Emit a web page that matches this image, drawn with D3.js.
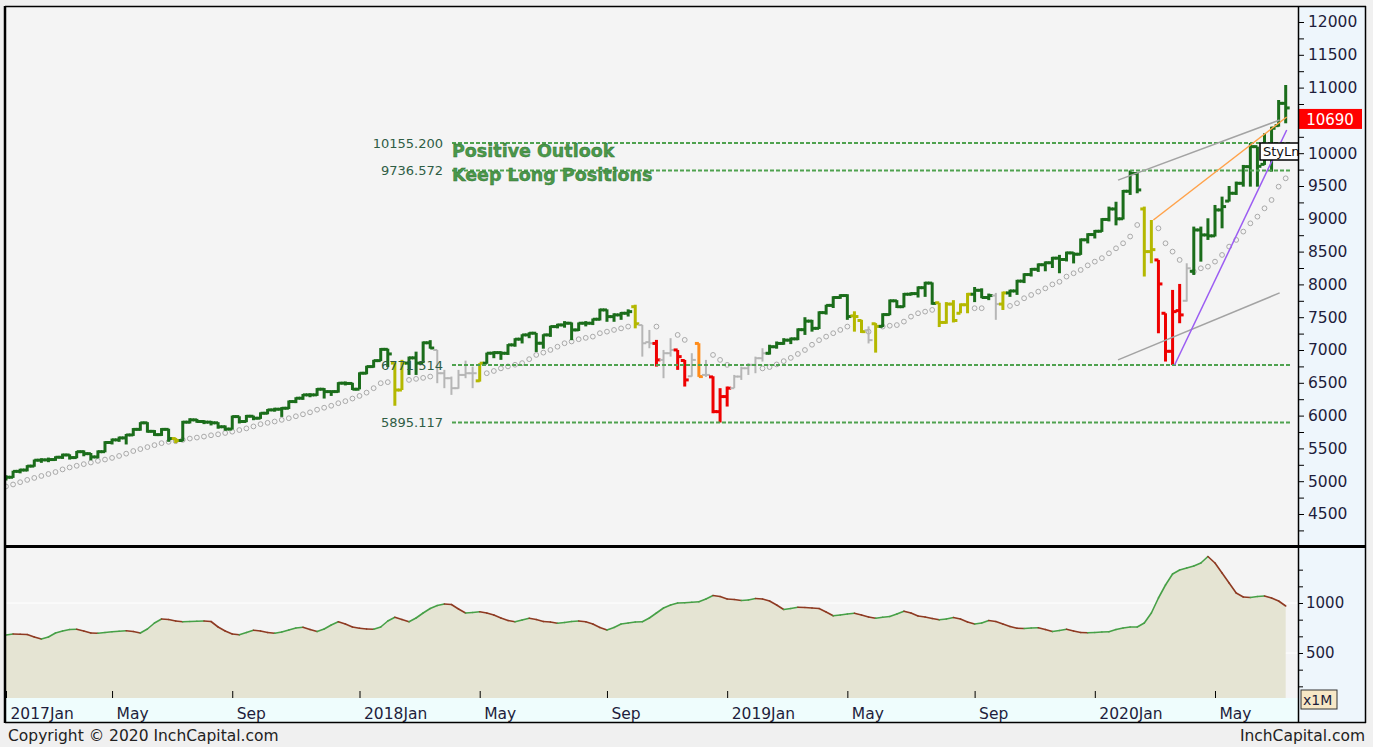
<!DOCTYPE html>
<html>
<head>
<meta charset="utf-8">
<script src="https://cdn.jsdelivr.net/npm/d3@7"></script>
<style>
  body { margin: 0; background: #f0f0f0; }
  text { font-family: "DejaVu Sans", Verdana, sans-serif; }
</style>
</head>
<body>
<svg id="chart" width="1373" height="747"></svg>
<script>
// weekly bars, one per friday
let dates = d3.timeFriday.range(new Date(2017, 0, 20), new Date(2020, 6, 11));

let opens = [
  5030,5060,5150,5170,5230,5320,5325,5330,5365,5400,
  5360,5450,5420,5370,5450,5590,5630,5660,5705,5790,
  5890,5760,5710,5790,5650,5620,5900,5935,5910,5900,
  5890,5830,5795,5985,5910,5990,5960,6036,6087,6097,
  6112,6214,6265,6316,6316,6402,6366,6366,6494,6490,
  6402,6646,6747,6838,7010,6800,6390,6800,6880,6800,
  7110,7000,6646,6570,6418,6620,6646,6530,6799,6951,
  6960,6950,7078,7165,7230,7256,7103,7230,7357,7382,
  7408,7306,7408,7408,7469,7611,7509,7535,7560,7660,
  7380,7120,7100,6849,6951,7001,6840,6600,7100,6620,
  6590,6060,6290,6418,6595,6722,6773,6875,6950,7050,
  7100,7150,7170,7310,7440,7330,7570,7680,7800,7830,
  7520,7450,7300,7400,7360,7540,7750,7660,7850,7860,
  7950,8020,7720,7420,7700,7560,7690,7850,7910,7800,
  7830,7700,7870,7900,8050,8150,8230,8300,8330,8400,
  8380,8480,8460,8680,8760,8810,8990,9150,9000,9420,
  9690,9150,8500,8373,7560,6980,7600,7750,8200,8830,
  8754,8740,9135,9270,9389,9541,9795,10100,9830,10125,
  10420,10760
];
let highs = [
  5090,5160,5190,5245,5330,5350,5360,5380,5420,5410,
  5460,5470,5430,5470,5610,5650,5680,5720,5810,5900,
  5900,5780,5810,5800,5660,5920,5960,5950,5930,5920,
  5900,5850,6000,5990,6010,6000,6050,6100,6120,6130,
  6230,6280,6330,6340,6420,6420,6380,6510,6520,6500,
  6660,6760,6850,7030,7020,6810,6850,6900,6975,7130,
  7150,7000,6697,6595,6697,6838,6747,6800,6960,6980,
  6980,7090,7180,7240,7270,7260,7240,7370,7400,7440,
  7420,7420,7440,7480,7630,7620,7560,7580,7620,7690,
  7382,7306,7154,7001,7180,7001,6849,6951,7103,6849,
  6600,6418,6443,6620,6747,6799,6899,7027,7080,7130,
  7180,7190,7330,7500,7460,7590,7690,7820,7850,7850,
  7590,7460,7360,7410,7560,7770,7760,7870,7880,7970,
  8040,8030,7720,7730,7760,7710,7870,7960,7940,7860,
  7870,7890,7920,8070,8170,8250,8320,8350,8420,8450,
  8500,8490,8700,8780,8830,9010,9186,9260,9440,9736.572,
  9700,9186,8982,8373,7560,7916,8007,8322,8881,8881,
  9008,9211,9338,9500,9567,9821,10155.2,10100,10303,10405,
  10811,11040
];
let lows = [
  5010,5050,5120,5150,5220,5280,5290,5310,5340,5330,
  5350,5380,5320,5350,5440,5560,5600,5560,5690,5770,
  5740,5690,5690,5600,5580,5610,5880,5890,5870,5850,
  5800,5770,5790,5880,5900,5930,5950,6020,6060,5980,
  6100,6190,6240,6280,6300,6260,6300,6350,6460,6390,
  6400,6630,6730,6830,6740,6150,6390,6620,6620,6800,
  7020,6494,6418,6316,6410,6570,6418,6518,6790,6875,
  6850,6925,7050,7100,7180,6970,7020,7200,7330,7340,
  7150,7290,7360,7380,7450,7430,7430,7460,7510,7330,
  6899,7027,6747,6570,6899,6697,6443,6595,6590,6590,
  6036,5895.117,6138,6418,6544,6620,6646,6823,6930,7020,
  7080,7090,7150,7230,7280,7320,7540,7640,7780,7460,
  7280,7260,7100,6960,7350,7530,7640,7650,7830,7800,
  7810,7690,7350,7400,7420,7560,7560,7730,7790,7760,
  7460,7610,7810,7840,8020,8120,8190,8200,8250,8170,
  8350,8320,8450,8625,8700,8800,8960,8900,8990,9364,
  9389,8120,8322,7255,6824,6771.514,7408,7738,8144,8347,
  8678,8730,8855,9262,9364,9490,9490,9490,9821,9719,
  10405,10456
];
let closes = [
  5060,5150,5170,5230,5320,5325,5330,5365,5400,5360,
  5450,5420,5370,5450,5590,5630,5660,5705,5790,5890,
  5760,5710,5790,5650,5620,5900,5935,5910,5900,5890,
  5830,5795,5985,5910,5990,5960,6036,6087,6097,6112,
  6214,6265,6316,6316,6402,6366,6366,6494,6490,6402,
  6646,6747,6838,7010,6940,6390,6800,6880,6800,7110,
  7030,6646,6570,6418,6620,6646,6646,6799,6951,6960,
  6950,7078,7165,7230,7256,7103,7230,7357,7382,7408,
  7306,7408,7408,7469,7611,7509,7535,7560,7585,7400,
  7103,7103,6849,6951,7001,6899,6544,6849,6595,6620,
  6061,6290,6418,6595,6722,6773,6875,6950,7050,7100,
  7150,7170,7310,7440,7330,7570,7680,7800,7830,7510,
  7510,7280,7150,7360,7540,7750,7660,7850,7860,7950,
  8020,7710,7420,7700,7450,7690,7850,7910,7800,7830,
  7700,7870,7900,8050,8150,8230,8300,8330,8400,8380,
  8480,8460,8680,8760,8810,8990,9150,9000,9420,9690,
  9440,8500,8530,8007,6980,7585,7535,8246,8830,8754,
  8740,9135,9186,9389,9541,9795,10100,9800,10125,10380,
  10760,10690
];
// g = trend up, y = caution, x = neutral, r = trend down, o = warning
let barColors = ("gggggggggggggggggggggggg y gggggggggggggggggggggggggggggg yy gggg xxxxxx y " +
  "ggggggggggggggggggggg y xx r xx rr x o x rrr xxxxx gggggggggggg yy x y gggggggg yyyyy ggg x y " +
  "ggggggggggggggggggg yy rrrr x gggggggggggggg").replace(/ /g, '');

// trailing stop dots (null = not drawn)
let stops = [
  4920,4950,4985,5020,5050,5080,5110,5140,5180,5210,
  5235,5260,5285,5310,5330,5355,5385,5420,5460,5490,
  5520,5550,5580,5600,5610,5630,5650,5665,5680,5700,
  5715,5735,5755,5780,5805,5835,5870,5890,5910,5935,
  5960,5990,6020,6050,6090,6120,6150,6189,6220,6260,
  6300,6350,6418,6494,6510,null,null,6544,6560,6575,
  6595,null,null,null,null,null,null,null,6646,6680,
  6720,6750,6775,6800,6860,6925,6960,7001,7050,7103,
  7130,7164,7185,7204,7256,7280,7306,7330,7357,null,
  null,null,7357,null,null,7230,7154,null,null,null,
  6925,6849,6773,null,null,null,null,6720,6740,6780,
  6830,6880,6940,7000,7080,7150,7204,7256,7306,7357,
  null,null,7280,null,7357,7370,7380,7433,7509,7560,
  7585,7611,null,null,null,null,null,7637,7637,null,
  null,null,7672,7713,7789,7839,7890,7940,8000,8040,
  8119,8170,8220,8290,8347,8400,8474,8550,8627,8730,
  8906,null,null,8855,8627,8500,8373,null,8195,8246,
  8271,8347,8449,8576,8678,8805,8931,9033,9160,9287,
  9490,9617
];

let volumes = [
  680,690,688,685,660,640,660,700,720,735,
  737,720,700,697,705,713,718,722,715,700,
  740,800,840,835,820,813,815,818,820,815,
  760,720,690,682,705,728,720,705,697,710,
  730,750,757,735,715,740,780,812,790,760,
  747,740,737,760,820,857,835,813,850,900,
  945,975,990,985,940,900,905,913,900,880,
  850,825,813,830,847,835,815,810,797,805,
  815,820,812,790,755,730,755,790,800,810,
  813,850,900,950,980,1000,1003,1008,1013,1040,
  1075,1065,1040,1035,1025,1030,1045,1040,1020,980,
  935,945,957,955,950,945,910,872,880,890,
  897,880,860,847,858,865,890,918,900,870,
  860,845,832,840,855,840,810,790,800,825,
  815,790,765,748,745,750,753,735,715,725,
  737,720,705,703,705,710,713,735,750,760,
  760,800,900,1050,1180,1290,1330,1350,1370,1400,
  1465,1400,1300,1200,1100,1060,1055,1065,1070,1050,
  1020,970
];

let levelValues = [10155.200, 9736.572, 6771.514, 5895.117];
let levelNotes = ['Positive Outlook', 'Keep Long Positions', '', ''];
let noteOffsets = [14, 10.5, 0, 0];

let trendLines = [
  { from: [new Date(2020, 0, 26), 9590], to: [new Date(2020, 6, 4), 10505], color: '#a3a3a3' },
  { from: [new Date(2020, 0, 26), 6849], to: [new Date(2020, 6, 4), 7870], color: '#a3a3a3' },
  { from: [new Date(2020, 2, 1), 8982], to: [new Date(2020, 6, 11), 10552], color: '#ffa24a' },
  { from: [new Date(2020, 2, 22), 6771.514], to: [new Date(2020, 6, 11), 10354], color: '#9b5cf2' }
];
let lastPrice = 10690;
let tickMonths = [0, 4, 8];
let monthNames = ['Jan','Feb','Mar','Apr','May','Jun','Jul','Aug','Sep','Oct','Nov','Dec'];

let colorMap = { g: '#1b6d1b', y: '#b4b800', x: '#b6b6b6', r: '#ee0000', o: '#ff8c1a' };

// layout
let plotLeft = 6, plotRight = 1298;
let priceTop = 7, priceBottom = 545;
let volTop = 548, volBottom = 698;

let svg = d3.select('#chart');

let x = d3.scaleTime()
    .domain([new Date(2017, 0, 20), new Date(2020, 6, 10)])
    .range([6, 1285.7]);
let y = d3.scaleLinear().domain([4500, 12000]).range([514, 22]);
let yv = d3.scaleLinear().domain([500, 1000]).range([653, 603]);

// backgrounds
svg.append('rect').attr('width', 1373).attr('height', 747).attr('fill', '#f0f0f0');
svg.append('rect').attr('x', plotLeft).attr('y', 6).attr('width', plotRight - plotLeft).attr('height', 716)
    .attr('fill', '#f4f4f4');
svg.append('rect').attr('x', plotRight).attr('y', 6).attr('width', 1365 - plotRight).attr('height', 716)
    .attr('fill', '#eef6fc');
svg.append('rect').attr('x', plotLeft).attr('y', volBottom).attr('width', plotRight - plotLeft).attr('height', 24)
    .attr('fill', '#effdfd');

let defs = svg.append('defs');
defs.append('clipPath').attr('id', 'clipPrice').append('rect')
    .attr('x', plotLeft).attr('y', priceTop).attr('width', plotRight - plotLeft).attr('height', priceBottom - priceTop);
defs.append('clipPath').attr('id', 'clipVol').append('rect')
    .attr('x', plotLeft).attr('y', volTop).attr('width', plotRight - plotLeft).attr('height', volBottom - volTop);

// ---------- price panel ----------
let price = svg.append('g').attr('clip-path', 'url(#clipPrice)');

price.selectAll('circle.stop')
    .data(dates.map((d, i) => ({ d: d, v: stops[i] })).filter(p => p.v !== null))
    .enter()
    .append('circle')
    .attr('class', 'stop')
    .attr('cx', p => x(p.d))
    .attr('cy', p => y(p.v))
    .attr('r', 2.4)
    .attr('fill', 'none')
    .attr('stroke', '#a9a9a9')
    .attr('stroke-width', 1);

let bars = price.selectAll('g.bar')
    .data(dates.map((d, i) => ({ d: d, o: opens[i], h: highs[i], l: lows[i], c: closes[i], k: barColors[i] })))
    .enter()
    .append('g')
    .attr('class', 'bar')
    .attr('stroke', b => colorMap[b.k])
    .attr('stroke-width', b => b.k === 'x' ? 2 : 3);

bars.append('line')
    .attr('x1', b => x(b.d)).attr('x2', b => x(b.d))
    .attr('y1', b => y(Math.max(b.h, b.o, b.c)))
    .attr('y2', b => y(Math.min(b.l, b.o, b.c)));
bars.append('line')
    .attr('x1', b => x(b.d) - 4).attr('x2', b => x(b.d))
    .attr('y1', b => y(b.o)).attr('y2', b => y(b.o));
bars.append('line')
    .attr('x1', b => x(b.d)).attr('x2', b => x(b.d) + 4)
    .attr('y1', b => y(b.c)).attr('y2', b => y(b.c));

// level lines + labels
levelValues.forEach(function (v, i) {
    price.append('line')
        .attr('x1', 452).attr('x2', 1290)
        .attr('y1', y(v)).attr('y2', y(v))
        .attr('stroke', '#4fa24f')
        .attr('stroke-width', 2)
        .attr('stroke-dasharray', '4,2');
    price.append('text')
        .attr('x', 443).attr('y', y(v) + 5)
        .attr('text-anchor', 'end')
        .attr('font-size', '13px')
        .attr('fill', '#2f5d45')
        .text(v.toFixed(3));
    if (levelNotes[i]) {
        price.append('text')
            .attr('x', 452).attr('y', y(v) + noteOffsets[i])
            .attr('font-size', '17.5px')
            .attr('font-weight', 'bold')
            .attr('fill', '#4a984a')
            .attr('stroke', '#2e6e2e')
            .attr('stroke-width', 0.4)
            .text(levelNotes[i]);
    }
});

// trend lines
trendLines.forEach(function (t) {
    price.append('line')
        .attr('x1', x(t.from[0])).attr('y1', y(t.from[1]))
        .attr('x2', x(t.to[0])).attr('y2', y(t.to[1]))
        .attr('stroke', t.color)
        .attr('stroke-width', 1.5);
});

// style box
price.append('rect')
    .attr('x', 1260).attr('y', 143).attr('width', 42).attr('height', 17)
    .attr('fill', '#ffffff').attr('stroke', '#000').attr('stroke-width', 1.5);
price.append('text')
    .attr('x', 1263).attr('y', 156)
    .attr('font-size', '13px').attr('fill', '#111')
    .text('StyLn');

// right price axis, labels every 500 (the one under the price tag is covered)
let tagTop = y(lastPrice) + 1, tagBottom = tagTop + 20;
let yAxis = d3.axisRight(y)
    .tickValues(d3.range(4250, 12001, 250))
    .tickSize(6)
    .tickPadding(4)
    .tickFormat(d => (d % 500 === 0 && !(y(d) > tagTop - 8 && y(d) < tagBottom + 8)) ? d : '');
let yAxisG = svg.append('g')
    .attr('transform', `translate(${plotRight},0)`)
    .call(yAxis);
yAxisG.select('.domain').remove();
yAxisG.selectAll('text').filter(function () { return this.textContent === ''; }).remove();
yAxisG.selectAll('text')
    .attr('font-size', '15.5px')
    .attr('fill', '#1e1e3c')
    .style('font-family', '"DejaVu Sans", Verdana, sans-serif');

// last price tag
svg.append('rect')
    .attr('x', 1299).attr('y', tagTop).attr('width', 63).attr('height', 20)
    .attr('fill', '#ff0000');
svg.append('text')
    .attr('x', 1330).attr('y', tagTop + 16)
    .attr('text-anchor', 'middle')
    .attr('font-size', '15px')
    .attr('fill', '#ffffff')
    .text(lastPrice);

// ---------- volume panel ----------
let vol = svg.append('g').attr('clip-path', 'url(#clipVol)');
let volData = dates.map((d, i) => ({ d: d, v: volumes[i] }));

vol.selectAll('line.grid')
    .data([500, 1000])
    .enter()
    .append('line')
    .attr('x1', plotLeft).attr('x2', plotRight)
    .attr('y1', d => yv(d)).attr('y2', d => yv(d))
    .attr('stroke', '#ffffff');

let area = d3.area()
    .x(p => x(p.d))
    .y0(volBottom)
    .y1(p => yv(p.v));
vol.append('path')
    .datum(volData)
    .attr('d', area)
    .attr('fill', '#e5e4d3');

vol.selectAll('line.seg')
    .data(volData.slice(1).map((p, i) => ({ a: volData[i], b: p })))
    .enter()
    .append('line')
    .attr('class', 'seg')
    .attr('x1', s => x(s.a.d)).attr('y1', s => yv(s.a.v))
    .attr('x2', s => x(s.b.d)).attr('y2', s => yv(s.b.v))
    .attr('stroke', s => s.b.v >= s.a.v ? '#47a047' : '#8e3a22')
    .attr('stroke-width', 1.6)
    .attr('stroke-linecap', 'round');

let vAxis = d3.axisRight(yv)
    .tickValues([1333.33, 1166.67, 1000, 833.33, 666.67, 500, 333.33, 166.67])
    .tickSize(5)
    .tickPadding(3)
    .tickFormat(d => (d === 1000 || d === 500) ? d : '');
let vAxisG = svg.append('g')
    .attr('transform', `translate(${plotRight},0)`)
    .call(vAxis);
vAxisG.select('.domain').remove();
vAxisG.selectAll('text').filter(function () { return this.textContent === ''; }).remove();
vAxisG.selectAll('text')
    .attr('font-size', '15px')
    .attr('fill', '#1e1e3c')
    .style('font-family', '"DejaVu Sans", Verdana, sans-serif');

svg.append('rect')
    .attr('x', 1301).attr('y', 690).attr('width', 36).attr('height', 19)
    .attr('fill', '#f7e7c6').attr('stroke', '#333').attr('stroke-width', 1);
svg.append('text')
    .attr('x', 1303).attr('y', 705)
    .attr('font-size', '14px').attr('fill', '#1e1e3c')
    .text('x1M');

// ---------- time axis ----------
let monthTicks = dates.filter((d, i) => tickMonths.includes(d.getMonth()) &&
    (i === 0 || dates[i - 1].getMonth() !== d.getMonth()));
let xAxis = d3.axisBottom(x)
    .tickValues(monthTicks)
    .tickSize(0)
    .tickFormat(d => d.getMonth() === 0 ? d.getFullYear() + 'Jan' : monthNames[d.getMonth()]);
let xAxisG = svg.append('g')
    .attr('transform', `translate(0,${volBottom})`)
    .call(xAxis);
xAxisG.select('.domain').remove();
xAxisG.selectAll('text')
    .attr('text-anchor', 'start')
    .attr('dx', 4)
    .attr('y', 21)
    .attr('dy', 0)
    .attr('font-size', '15.5px')
    .attr('fill', '#1e1e3c')
    .style('font-family', '"DejaVu Sans", Verdana, sans-serif');
xAxisG.selectAll('.tick')
    .append('line')
    .attr('y1', -7).attr('y2', 0)
    .attr('stroke', '#000');

// ---------- frame ----------
let frame = svg.append('g').attr('stroke', '#000').attr('fill', 'none');
frame.append('line').attr('x1', 5).attr('x2', 5).attr('y1', 6).attr('y2', 723).attr('stroke-width', 2.5);
frame.append('line').attr('x1', 5).attr('x2', 1366).attr('y1', 6.5).attr('y2', 6.5).attr('stroke-width', 1.5);
frame.append('line').attr('x1', 1365.5).attr('x2', 1365.5).attr('y1', 6).attr('y2', 723).attr('stroke-width', 1.5);
frame.append('line').attr('x1', 5).attr('x2', 1366).attr('y1', 722.5).attr('y2', 722.5).attr('stroke-width', 1.5);
frame.append('line').attr('x1', 5).attr('x2', 1366).attr('y1', 546.5).attr('y2', 546.5).attr('stroke-width', 3);
frame.append('line').attr('x1', plotRight + 0.5).attr('x2', plotRight + 0.5).attr('y1', 6).attr('y2', 723).attr('stroke-width', 1.5);

// footer
svg.append('text')
    .attr('x', 8).attr('y', 741)
    .attr('font-size', '15.5px').attr('fill', '#222')
    .text('Copyright \u00a9 2020 InchCapital.com');
svg.append('text')
    .attr('x', 1365).attr('y', 741)
    .attr('text-anchor', 'end')
    .attr('font-size', '15.5px').attr('fill', '#222')
    .text('InchCapital.com');
</script>
</body>
</html>
